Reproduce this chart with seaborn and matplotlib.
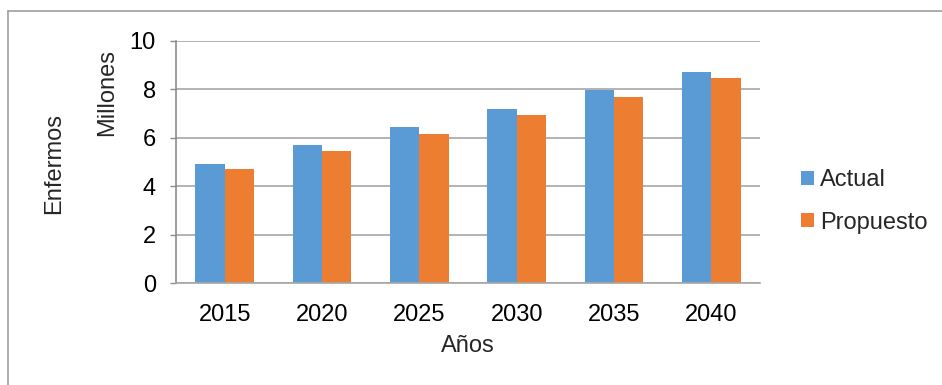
import matplotlib
matplotlib.use("Agg")
import matplotlib.pyplot as plt
from matplotlib.lines import Line2D
from matplotlib.patches import Patch
import pandas as pd
import seaborn as sns

# values (millions)
years = ["2015", "2020", "2025", "2030", "2035", "2040"]
actual = [4.90, 5.68, 6.43, 7.17, 7.96, 8.71]
propuesto = [4.70, 5.46, 6.17, 6.92, 7.67, 8.46]
series = ["Actual", "Propuesto"]
colors = ["#5B9BD5", "#ED7D31"]

df = pd.DataFrame({
    "Año": years * 2,
    "Valor": actual + propuesto,
    "Serie": [series[0]] * len(years) + [series[1]] * len(years),
})

sns.set_theme(style="white")
plt.rcParams["font.family"] = ["Liberation Sans", "DejaVu Sans"]

FS = 17
W, H = 942, 385
fig = plt.figure(figsize=(W / 100, H / 100), dpi=100)
ax = fig.add_axes([176 / W, 1 - 283 / H, (760 - 176) / W, (283 - 40.7) / H])

sns.barplot(data=df, x="Año", y="Valor", hue="Serie", palette=colors,
            width=0.6, linewidth=0, saturation=1, legend=False, ax=ax)

ax.set_ylim(0, 10)
ax.set_yticks([0, 2, 4, 6, 8, 10])
ax.set_xlabel("")
ax.set_ylabel("")
ax.yaxis.grid(True, color="#A6A6A6", linewidth=1.2)
ax.set_axisbelow(True)
for s in ["top", "right"]:
    ax.spines[s].set_visible(False)
ax.spines["bottom"].set_color("#A6A6A6")
ax.spines["bottom"].set_linewidth(1.2)
ax.spines["left"].set_color("#8C8C8C")
ax.spines["left"].set_linewidth(1.2)
ax.tick_params(axis="y", left=True, length=4.5, width=1, color="#8C8C8C",
               pad=10, labelsize=FS, labelcolor="black")
ax.tick_params(axis="x", bottom=False, pad=9, labelsize=FS, labelcolor="black")

fig.text(54 / W, 1 - 163 / H, "Enfermos", rotation=90, ha="center", va="center", fontsize=FS)
fig.text(107 / W, 1 - 93 / H, "Millones", rotation=90, ha="center", va="center", fontsize=FS)
fig.text(468 / W, 1 - 346 / H, "Años", ha="center", va="center", fontsize=FS)

handles = [Patch(facecolor=c, edgecolor="none") for c in colors]
fig.legend(handles, series, loc="center left", bbox_to_anchor=(801 / W, 1 - 201.5 / H),
           frameon=False, fontsize=FS, handlelength=0.56, handleheight=0.56,
           handletextpad=0.25, labelspacing=0.85, borderpad=0, borderaxespad=0)

# outer chart border (top and left visible in the reference)
fig.add_artist(Line2D([7.5 / W, 1], [1 - 11 / H, 1 - 11 / H], color="#A0A0A0", linewidth=1.2))
fig.add_artist(Line2D([7.5 / W, 7.5 / W], [0, 1 - 11 / H], color="#A0A0A0", linewidth=1.2))

fig.savefig("out.png", dpi=100)
